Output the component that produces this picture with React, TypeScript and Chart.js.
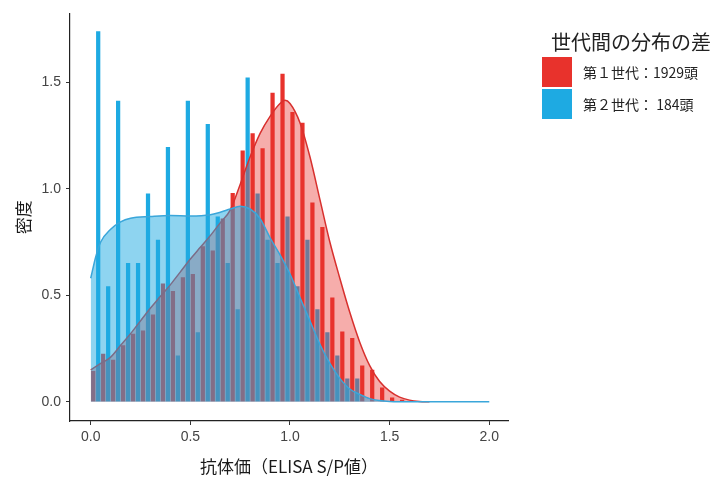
import React, { useEffect, useRef } from "react";
import Chart from "chart.js/auto";

// ---- data ----
const binCenters = [
  0.025, 0.075, 0.125, 0.175, 0.225, 0.275, 0.325, 0.375, 0.425, 0.475,
  0.525, 0.575, 0.625, 0.675, 0.725, 0.775, 0.825, 0.875, 0.925, 0.975,
  1.025, 1.075, 1.125, 1.175, 1.225, 1.275, 1.325, 1.375, 1.425, 1.475,
  1.525, 1.575,
];
const gen1Hist = [
  0.145, 0.226, 0.198, 0.265, 0.32, 0.335, 0.41, 0.555, 0.52, 0.585,
  0.6, 0.73, 0.71, 0.86, 0.98, 1.18, 1.26, 1.19, 1.45, 1.54,
  1.36, 1.31, 0.935, 0.82, 0.49, 0.33, 0.3, 0.17, 0.15, 0.067,
  0.02, 0.01,
];
const gen2Hist = [
  1.739, 0.543, 1.413, 0.652, 0.652, 0.978, 0.761, 1.196, 0.217, 1.413,
  0.326, 1.304, 0.87, 0.652, 0.435, 1.522, 0.978, 0.761, 0.652, 0.87,
  0.543, 0.761, 0.435, 0.326, 0.217, 0.109, 0.109, 0,
];
const gen1DensX = [
  0, 0.05, 0.1, 0.15, 0.2, 0.25, 0.3, 0.35, 0.4, 0.45, 0.5, 0.55, 0.6, 0.65,
  0.7, 0.75, 0.8, 0.85, 0.9, 0.95, 0.975, 1.0, 1.05, 1.1, 1.15, 1.2, 1.25,
  1.3, 1.35, 1.4, 1.45, 1.5, 1.55, 1.6, 1.65, 1.7,
];
const gen1Dens = [
  0.15, 0.18, 0.21, 0.265, 0.32, 0.38, 0.44, 0.495, 0.55, 0.61, 0.67, 0.725,
  0.78, 0.84, 0.9, 1.02, 1.15, 1.26, 1.34, 1.4, 1.415, 1.4, 1.31, 1.15, 0.95,
  0.75, 0.58, 0.42, 0.28, 0.17, 0.095, 0.05, 0.022, 0.008, 0.002, 0,
];
const gen2DensX = [
  0, 0.025, 0.05, 0.1, 0.15, 0.2, 0.3, 0.4, 0.5, 0.6, 0.65, 0.7, 0.75, 0.8,
  0.85, 0.9, 0.95, 1.0, 1.05, 1.1, 1.15, 1.2, 1.25, 1.3, 1.35, 1.4, 1.45,
  1.5, 1.6, 2.0,
];
const gen2Dens = [
  0.58, 0.68, 0.75, 0.81, 0.845, 0.862, 0.87, 0.875, 0.872, 0.878, 0.89,
  0.905, 0.918, 0.905, 0.86, 0.77, 0.69, 0.6, 0.49, 0.38, 0.27, 0.18, 0.11,
  0.06, 0.035, 0.015, 0.006, 0.002, 0, 0,
];
const xTickValues = [0, 0.5, 1, 1.5, 2];
const xTickLabels = ["0.0", "0.5", "1.0", "1.5", "2.0"];
const yTickValues = [0, 0.5, 1, 1.5];
const yTickLabels = ["0.0", "0.5", "1.0", "1.5"];
const legendTitle = "世代間の分布の差";
const seriesNames = ["第１世代：1929頭", "第２世代： 184頭"];
const xTitle = "抗体価（ELISA S/P値）";
const yTitle = "密度";

// ---- styles ----
const RED = "#e8322c";
const BLUE = "#1eaae2";
const RED_FILL = "rgba(232,50,44,0.40)";
const BLUE_FILL = "rgba(30,170,226,0.50)";
const RED_LINE = "#d8302e";
const BLUE_LINE = "#3aa6da";
const CJK = '"Noto Sans CJK JP", "Noto Sans", sans-serif';
const SANS = '"Liberation Sans", Arial, sans-serif';

const legendPlugin = {
  id: "customLegend",
  afterDraw(chart: any) {
    const ctx = chart.ctx;
    ctx.save();
    ctx.fillStyle = "#222";
    ctx.textBaseline = "middle";
    ctx.textAlign = "left";
    ctx.font = `20px ${CJK}`;
    ctx.fillText(legendTitle, 551, 42);
    const colors = [RED, BLUE];
    seriesNames.forEach((name, i) => {
      const y = 57 + i * 32;
      ctx.fillStyle = colors[i];
      ctx.fillRect(542, y, 30, 30);
      ctx.fillStyle = "#222";
      ctx.font = `14px ${CJK}`;
      ctx.fillText(name, 583, y + 15.5);
    });
    ctx.restore();
  },
};

export default function App() {
  const ref = useRef<HTMLCanvasElement | null>(null);
  useEffect(() => {
    if (!ref.current) return;
    const chart = new Chart(ref.current, {
      type: "bar",
      data: {
        datasets: [
          {
            type: "bar",
            label: seriesNames[0],
            data: binCenters.map((x, i) => ({ x, y: gen1Hist[i] })),
            backgroundColor: RED,
            borderWidth: 0,
            barPercentage: 0.85,
            categoryPercentage: 1.0,
            order: 3,
          },
          {
            type: "bar",
            label: seriesNames[1],
            data: gen2Hist.map((y, i) => ({ x: binCenters[i], y })),
            backgroundColor: BLUE,
            borderWidth: 0,
            barPercentage: 0.85,
            categoryPercentage: 1.0,
            order: 3,
          },
          {
            type: "line",
            label: "gen1 density",
            data: gen1DensX.map((x, i) => ({ x, y: gen1Dens[i] })),
            borderColor: RED_LINE,
            backgroundColor: RED_FILL,
            borderWidth: 1.5,
            fill: "origin",
            pointRadius: 0,
            cubicInterpolationMode: "monotone",
            order: 2,
          },
          {
            type: "line",
            label: "gen2 density",
            data: gen2DensX.map((x, i) => ({ x, y: gen2Dens[i] })),
            borderColor: BLUE_LINE,
            backgroundColor: BLUE_FILL,
            borderWidth: 1.5,
            fill: "origin",
            pointRadius: 0,
            cubicInterpolationMode: "monotone",
            order: 1,
          },
        ],
      },
      options: {
        animation: false,
        responsive: true,
        maintainAspectRatio: false,
        events: [],
        layout: { padding: { left: 6, top: 12, right: 210, bottom: 0 } },
        plugins: {
          legend: { display: false },
          tooltip: { enabled: false },
          title: { display: false },
        },
        scales: {
          x: {
            type: "linear",
            min: -0.104,
            max: 2.094,
            offset: false,
            afterBuildTicks: (s: any) => {
              s.ticks = xTickValues.map((v) => ({ value: v }));
            },
            afterFit: (s: any) => {
              s.height = 58;
            },
            ticks: {
              callback: (v: any) => xTickLabels[xTickValues.indexOf(Number(v))] ?? "",
              color: "#444",
              font: { family: SANS, size: 14 },
              padding: 4,
              maxRotation: 0,
              autoSkip: false,
            },
            grid: {
              display: true,
              offset: false,
              drawOnChartArea: false,
              drawTicks: true,
              tickLength: 4,
              color: "#333",
            },
            border: { display: true, color: "#222", width: 1.2 },
            title: {
              display: true,
              text: xTitle,
              color: "#1a1a1a",
              font: { family: CJK, size: 17, lineHeight: 1.2 },
              padding: { top: 0, bottom: 2 },
            },
          },
          y: {
            type: "linear",
            min: -0.09,
            max: 1.823,
            afterBuildTicks: (s: any) => {
              s.ticks = yTickValues.map((v) => ({ value: v }));
            },
            afterFit: (s: any) => {
              s.width = 64;
            },
            ticks: {
              callback: (v: any) => yTickLabels[yTickValues.indexOf(Number(v))] ?? "",
              color: "#444",
              font: { family: SANS, size: 14 },
              padding: 5,
              autoSkip: false,
            },
            grid: {
              display: true,
              offset: false,
              drawOnChartArea: false,
              drawTicks: true,
              tickLength: 4,
              color: "#333",
            },
            border: { display: true, color: "#222", width: 1.2 },
            title: {
              display: true,
              text: yTitle,
              color: "#1a1a1a",
              font: { family: CJK, size: 17, lineHeight: 1.2 },
              padding: { top: 7, bottom: 0 },
            },
          },
        },
      },
      plugins: [legendPlugin],
    } as any);
    return () => chart.destroy();
  }, []);
  return (
    <div style={{ position: "fixed", left: 0, top: 0, width: 718, height: 479, background: "#fff" }}>
      <canvas ref={ref} />
    </div>
  );
}
